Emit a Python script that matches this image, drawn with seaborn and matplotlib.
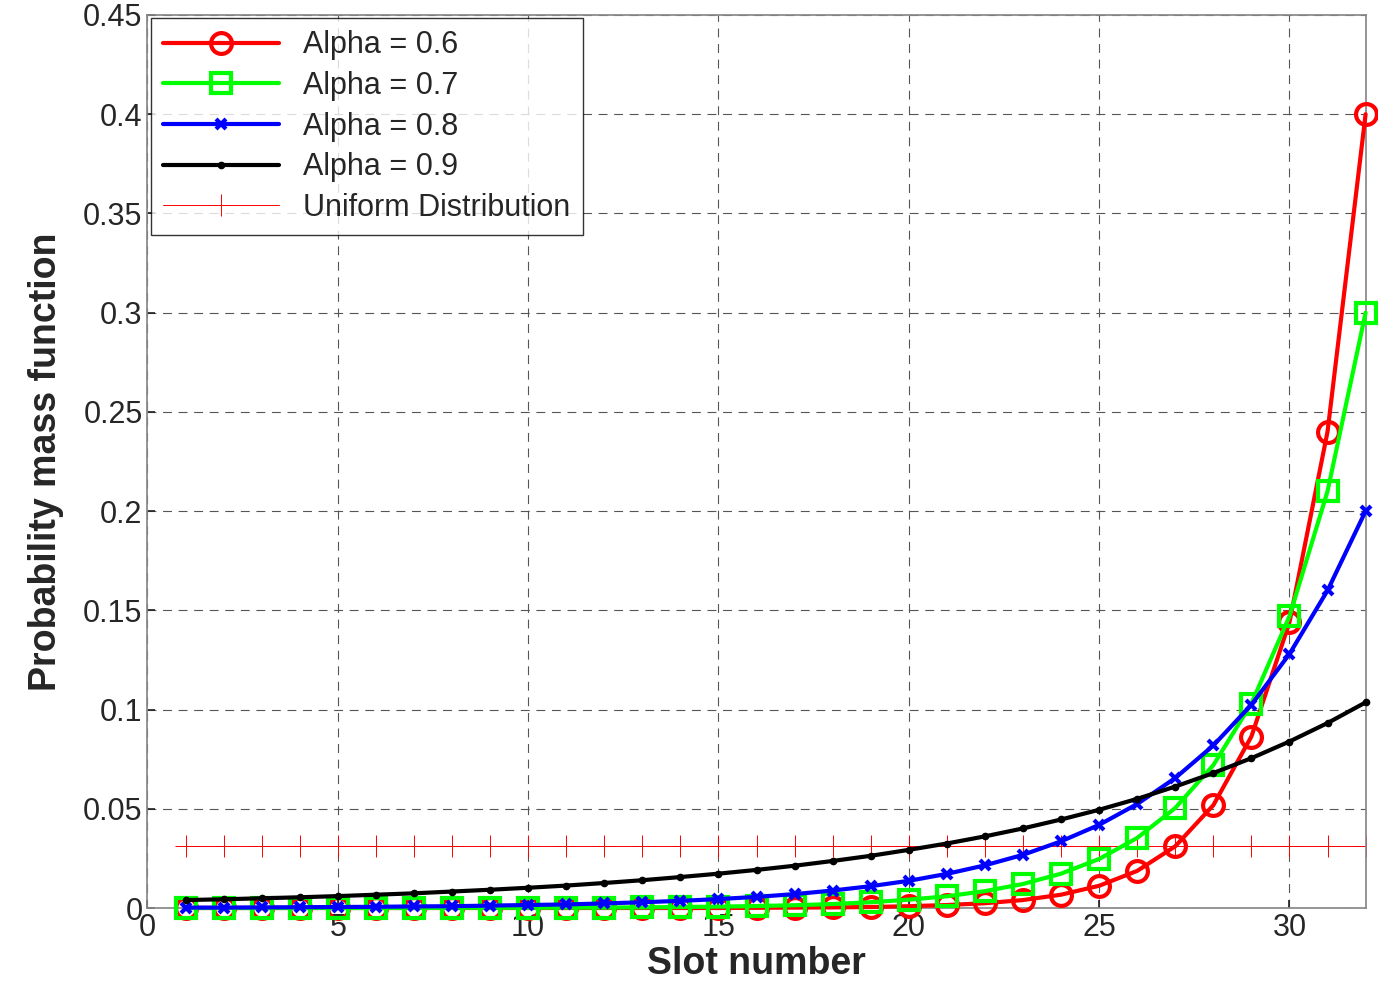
import matplotlib
matplotlib.use("Agg")
import matplotlib.pyplot as plt
import seaborn as sns
import pandas as pd

slots = list(range(1, 33))
a06 = [0.0]*15 + [0.0001, 0.0002, 0.0003, 0.0005, 0.0009, 0.0015, 0.0024, 0.004, 0.0067,
                  0.0112, 0.0187, 0.0311, 0.0518, 0.0864, 0.144, 0.24, 0.4]
a07 = [0.0, 0.0, 0.0, 0.0, 0.0, 0.0, 0.0, 0.0001, 0.0001, 0.0001, 0.0002, 0.0002, 0.0003,
       0.0005, 0.0007, 0.001, 0.0014, 0.002, 0.0029, 0.0042, 0.0059, 0.0085, 0.0121,
       0.0173, 0.0247, 0.0353, 0.0504, 0.072, 0.103, 0.147, 0.21, 0.3]
a08 = [0.0002, 0.0002, 0.0003, 0.0004, 0.0005, 0.0006, 0.0008, 0.0009, 0.0012, 0.0015,
       0.0018, 0.0023, 0.0029, 0.0036, 0.0045, 0.0056, 0.007, 0.0088, 0.011, 0.0137,
       0.0172, 0.0215, 0.0268, 0.0336, 0.0419, 0.0524, 0.0655, 0.0819, 0.1024, 0.128,
       0.16, 0.2]
a09 = [0.004, 0.0044, 0.0049, 0.0054, 0.006, 0.0067, 0.0074, 0.0083, 0.0092, 0.0102,
       0.0113, 0.0126, 0.014, 0.0156, 0.0173, 0.0192, 0.0213, 0.0237, 0.0263, 0.0293,
       0.0325, 0.0361, 0.0401, 0.0446, 0.0495, 0.055, 0.0612, 0.068, 0.0755, 0.0839,
       0.0932, 0.1036]
uniform = [0.03125]*32

sns.set_theme(style="ticks")
plt.rcParams['font.family'] = ['Liberation Sans', 'DejaVu Sans']
fig = plt.figure(figsize=(13.78, 10), dpi=100)
ax = fig.add_axes([0.107, 0.092, 0.884, 0.893])

dfu = pd.DataFrame({'x': slots, 'y': uniform})
ax.plot(dfu['x'], dfu['y'], color='red', marker='+', markersize=16,
        linewidth=0.7, markeredgewidth=0.7, label='Uniform Distribution', zorder=2)

series = [
    (a06, 'Alpha = 0.6', 'red', 'o', 15, 3),
    (a07, 'Alpha = 0.7', '#00ff00', 's', 15, 3),
    (a08, 'Alpha = 0.8', 'blue', 'x', 7, 3),
    (a09, 'Alpha = 0.9', 'black', '.', 9, 3),
]
for vals, lab, c, m, ms, lw in series:
    df = pd.DataFrame({'x': slots, 'y': vals})
    sns.lineplot(data=df, x='x', y='y', ax=ax, color=c, marker=m, markersize=ms,
                 linewidth=lw, markerfacecolor='none' if m in 'os' else c,
                 markeredgecolor=c, markeredgewidth=3 if m in 'osx' else 1, label=lab,
                 clip_on=False, zorder=3)

ax.set_xlim(0, 32)
ax.set_ylim(0, 0.45)
ax.set_xticks(range(0, 31, 5))
ax.set_yticks([0, 0.05, 0.1, 0.15, 0.2, 0.25, 0.3, 0.35, 0.4, 0.45])
ax.set_yticklabels(['0', '0.05', '0.1', '0.15', '0.2', '0.25', '0.3', '0.35', '0.4', '0.45'])
ax.tick_params(labelsize=22, direction='in', length=6)
ax.grid(True, color='#555555', linestyle=(0, (8, 6)), linewidth=0.8)
for s in ax.spines.values():
    s.set_color('#888888')
ax.set_xlabel('Slot number', fontsize=27, fontweight='bold', labelpad=2)
ax.set_ylabel('Probability mass function', fontsize=27, fontweight='bold', labelpad=14)
h, l = ax.get_legend_handles_labels()
order = [1, 2, 3, 4, 0]
leg = ax.legend([h[i] for i in order], [l[i] for i in order], loc='upper left', fontsize=22,
                frameon=True, fancybox=False, edgecolor='black', borderaxespad=0.1,
                handlelength=3.8, labelspacing=0.35)
leg.get_frame().set_linewidth(1)
fig.savefig('out.png', dpi=100)
